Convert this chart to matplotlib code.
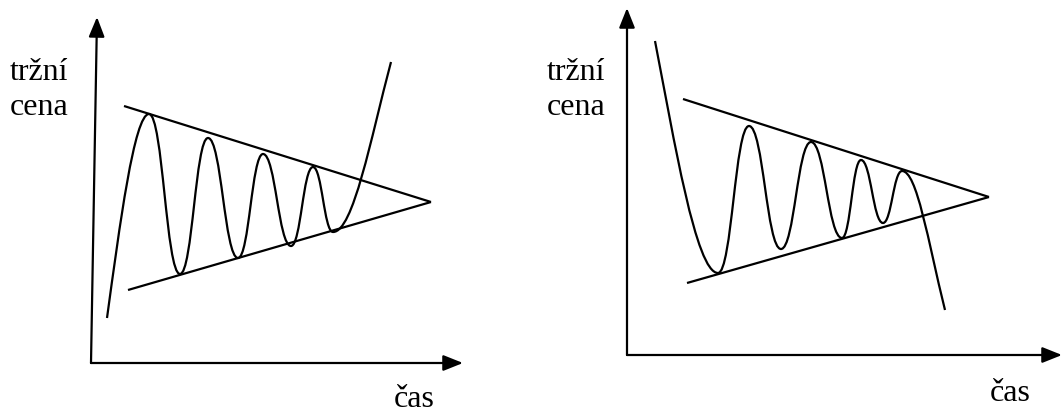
import matplotlib
matplotlib.use("Agg")
import matplotlib.pyplot as plt
from matplotlib.path import Path
from matplotlib.patches import PathPatch

# ---- data (pixel coordinates, y downward) ----
# left panel: symmetric triangle with upward breakout
left_x = [107, 149, 180, 208, 238, 263, 291, 313, 333, 391]
left_y = [318, 114, 274, 138, 258, 154, 246, 167, 232, 62]
left_upper = [(124, 106), (431, 202)]
left_lower = [(128, 290), (431, 202)]
left_axis_origin = (91, 363)
left_axis_ytip = (97, 17)
left_axis_xtip = (463, 363)

# right panel: triangle with downward breakout
right_x = [655, 718, 749, 781, 811, 842, 861, 883, 902, 945]
right_y = [41, 273, 126, 249, 142, 238, 160, 223, 171, 310]
right_upper = [(683, 99), (989, 197)]
right_lower = [(687, 283), (989, 197)]
right_axis_origin = (627, 355)
right_axis_ytip = (627, 8)
right_axis_xtip = (1062, 355)

ylabel_lines = ["tržní", "cena"]
xlabel = "čas"

W, H = 1062, 412
fig = plt.figure(figsize=(W / 100, H / 100), dpi=100)
ax = fig.add_axes([0, 0, 1, 1])
ax.set_xlim(0, W)
ax.set_ylim(H, 0)
ax.axis("off")

LW = 1.6
K = 0.45


def curve_path(xs, ys, start_ctrl, end_ctrl):
    verts = [(xs[0], ys[0])]
    codes = [Path.MOVETO]
    n = len(xs)
    for i in range(n - 1):
        x0, y0, x1, y1 = xs[i], ys[i], xs[i + 1], ys[i + 1]
        dx, dy = x1 - x0, y1 - y0
        if i == 0:
            c1 = (x0 + start_ctrl[0] * dx, y0 + start_ctrl[1] * dy)
            c2 = (x1 - 0.35 * dx, y1)
        elif i == n - 2:
            c1 = (x0 + 0.35 * dx, y0)
            c2 = (x1 - end_ctrl[0] * dx, y1 - end_ctrl[1] * dy)
        else:
            c1 = (x0 + K * dx, y0)
            c2 = (x1 - K * dx, y1)
        verts += [c1, c2, (x1, y1)]
        codes += [Path.CURVE4] * 3
    return Path(verts, codes)


ax.add_patch(PathPatch(curve_path(left_x, left_y, (0.3, 0.45), (0.35, 0.45)),
                       fill=False, lw=LW, edgecolor="black", capstyle="butt"))
ax.add_patch(PathPatch(curve_path(right_x, right_y, (0.3, 0.42), (0.4, 0.5)),
                       fill=False, lw=LW, edgecolor="black", capstyle="butt"))

for seg in (left_upper, left_lower, right_upper, right_lower):
    ax.plot([seg[0][0], seg[1][0]], [seg[0][1], seg[1][1]], color="black", lw=LW,
            solid_capstyle="butt")

arrow_style = "-|>,head_length=0.8,head_width=0.32"
for origin, tip in ((left_axis_origin, left_axis_ytip), (left_axis_origin, left_axis_xtip),
                    (right_axis_origin, right_axis_ytip), (right_axis_origin, right_axis_xtip)):
    ax.annotate("", xy=tip, xytext=origin,
                arrowprops=dict(arrowstyle=arrow_style, mutation_scale=15, lw=LW,
                                color="black", shrinkA=0, shrinkB=0))

font = dict(family="Liberation Serif", fontsize=23, color="black")
ax.text(10, 80, ylabel_lines[0], ha="left", va="baseline", **font)
ax.text(10, 115, ylabel_lines[1], ha="left", va="baseline", **font)
ax.text(547, 80, ylabel_lines[0], ha="left", va="baseline", **font)
ax.text(547, 115, ylabel_lines[1], ha="left", va="baseline", **font)
ax.text(394, 407, xlabel, ha="left", va="baseline", **font)
ax.text(990, 401, xlabel, ha="left", va="baseline", **font)

fig.savefig("out.png", dpi=100)
